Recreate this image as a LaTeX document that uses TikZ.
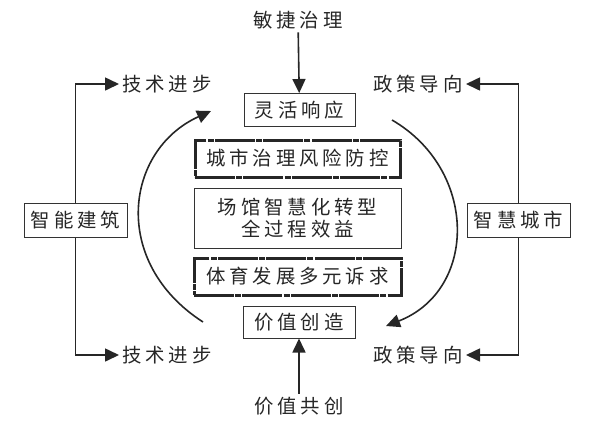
\documentclass[tikz,border=0pt]{standalone}
\usepackage{fontspec}
\setmainfont{Noto Sans CJK SC}[LetterSpace=20]
\usetikzlibrary{arrows.meta}
\begin{document}
\begin{tikzpicture}[x=0.5pt,y=-0.5pt,
  every node/.style={font=\fontsize{9.7pt}{11pt}\selectfont, text=black!85},
  lbl/.style={inner sep=1.5pt},
  plainbox/.style={draw=black!80, line width=0.5pt, inner sep=0pt},
  dashbox/.style={draw=black!85, line width=1.5pt, inner sep=0pt,
     dash pattern=on 20pt off 0.6pt on 3pt off 0.6pt},
  conn/.style={draw=black!85, line width=0.8pt, -{Triangle[length=7pt,width=6.5pt]}}
]
\useasboundingbox (0,0) rectangle (600,435);
% central boxes
\node[plainbox, minimum width=55.5pt, minimum height=16.5pt] (lh) at (299.5,110) {灵活响应};
\node[dashbox, minimum width=102.5pt, minimum height=18.5pt] (cs) at (297.5,158.5) {城市治理风险防控};
\node[plainbox, minimum width=103.5pt, minimum height=30pt, align=center] (cg) at (297.5,218) {场馆智慧化转型\\全过程效益};
\node[dashbox, minimum width=103.5pt, minimum height=18.5pt] (ty) at (297.5,276.5) {体育发展多元诉求};
\node[plainbox, minimum width=56pt, minimum height=16pt] (jz) at (299,322) {价值创造};
% top and bottom labels
\node[lbl] (mj) at (298,20) {敏捷治理};
\node[lbl] (gc) at (299,406) {价值共创};
\draw[conn] (mj) -- (lh);
\draw[conn] (gc) -- (jz);
% side boxes
\node[plainbox, minimum width=51.5pt, minimum height=17pt] (zn) at (75.5,220) {智能建筑};
\node[plainbox, minimum width=51.5pt, minimum height=17pt] (zh) at (518.5,220) {智慧城市};
% side labels
\node[lbl, anchor=west] (j1) at (119,84) {技术进步};
\node[lbl, anchor=west] (j2) at (119,355) {技术进步};
\node[lbl, anchor=east] (p1) at (466,84) {政策导向};
\node[lbl, anchor=east] (p2) at (466,355) {政策导向};
\draw[conn] (zn.north) |- (j1.west);
\draw[conn] (zn.south) |- (j2.west);
\draw[conn] (zh.north) |- (p1.east);
\draw[conn] (zh.south) |- (p2.east);
% curved arrows
\coordinate (la) at (203,322);
\coordinate (lb) at (211,111);
\coordinate (ra) at (392,120);
\coordinate (rb) at (386,326);
\draw[conn] (la) .. controls (110,262) and (125,150) .. (lb);
\draw[conn] (ra) .. controls (478,170) and (478,290) .. (rb);
\end{tikzpicture}
\end{document}
